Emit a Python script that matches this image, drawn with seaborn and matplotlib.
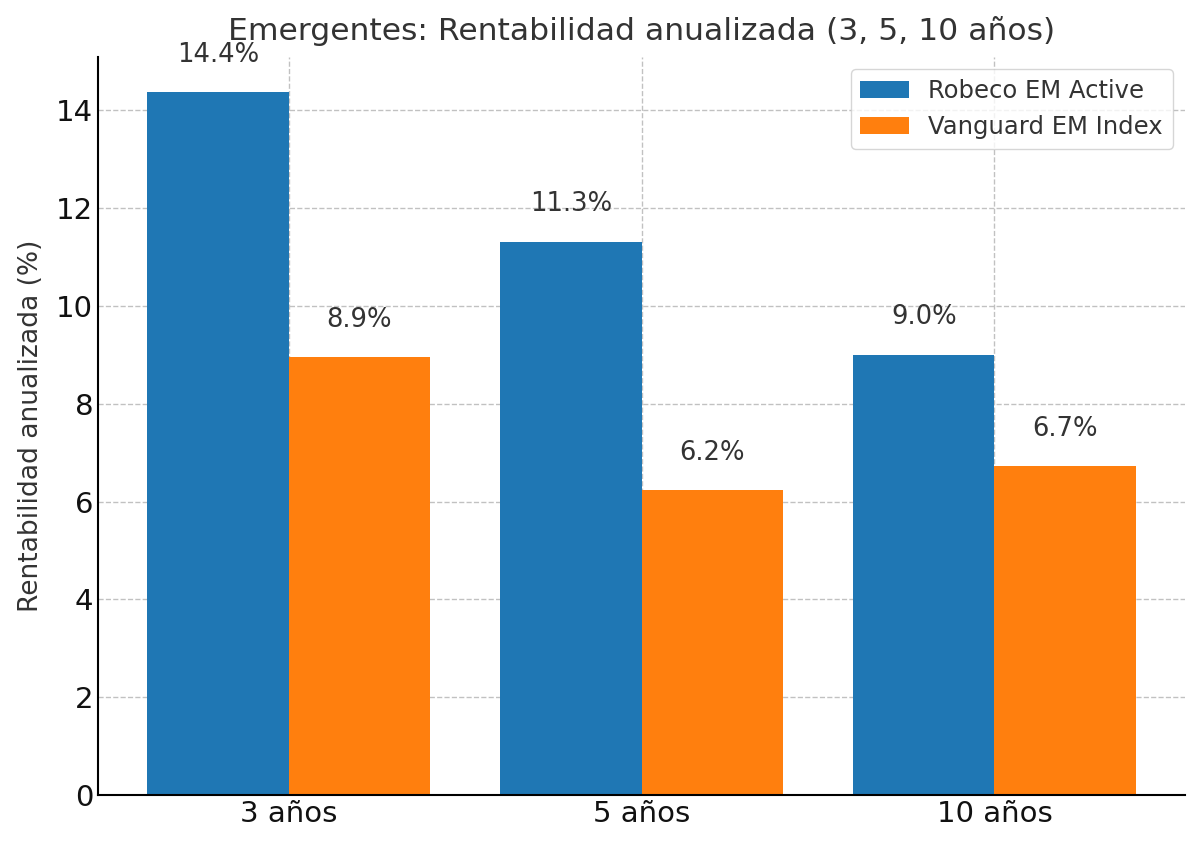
import pandas as pd
import matplotlib
matplotlib.use("Agg")
import matplotlib.pyplot as plt
import seaborn as sns

# Data
periodos = ["3 años", "5 años", "10 años"]
robeco = [14.37, 11.31, 9.00]
vanguard = [8.95, 6.23, 6.72]
fondos = ["Robeco EM Active", "Vanguard EM Index"]
colores = ["#1f77b4", "#ff7f0e"]

df = pd.DataFrame({
    "Periodo": periodos * 2,
    "Rentabilidad": robeco + vanguard,
    "Fondo": [fondos[0]] * 3 + [fondos[1]] * 3,
})

sns.set_style("white")
plt.rcParams['font.family'] = ['DejaVu Sans']

fig = plt.figure(figsize=(12, 8.5), dpi=100)
ax = fig.add_axes([0.0817, 0.0647, 0.9058, 0.8683])

sns.barplot(data=df, x="Periodo", y="Rentabilidad", hue="Fondo",
            palette=colores, saturation=1, width=0.8, ax=ax, errorbar=None,
            linewidth=0)

# value labels above each bar
for cont in ax.containers:
    for bar in cont:
        h = bar.get_height()
        ax.text(bar.get_x() + bar.get_width() / 2, h + 0.5, f"{h:.1f}%",
                ha='center', va='bottom', fontsize=18.6, color='#333333')

ax.set_title("Emergentes: Rentabilidad anualizada (3, 5, 10 años)",
             fontsize=22.6, color='#333333', pad=12)
ax.set_xlabel("")
ax.set_ylabel("Rentabilidad anualizada (%)", fontsize=19.1, color='#333333',
              labelpad=9)
ax.set_xlim(-0.54, 2.54)
ax.set_ylim(0, 15.09)
ax.set_yticks(range(0, 15, 2))
ax.tick_params(axis='both', labelsize=21, direction='in', length=6,
               colors='black', labelcolor='#111111')

ax.grid(True, linestyle='--', color='#bbbbbb', alpha=0.9, linewidth=1)
ax.set_axisbelow(True)
for s in ["top", "right"]:
    ax.spines[s].set_visible(False)
for s in ["left", "bottom"]:
    ax.spines[s].set_color('black')
    ax.spines[s].set_linewidth(1.5)

leg = ax.legend(title=None, loc='upper right', fontsize=17.5, frameon=True,
                fancybox=True, edgecolor='#cccccc')
for t in leg.get_texts():
    t.set_color('#333333')

fig.savefig("out.png", dpi=100)
